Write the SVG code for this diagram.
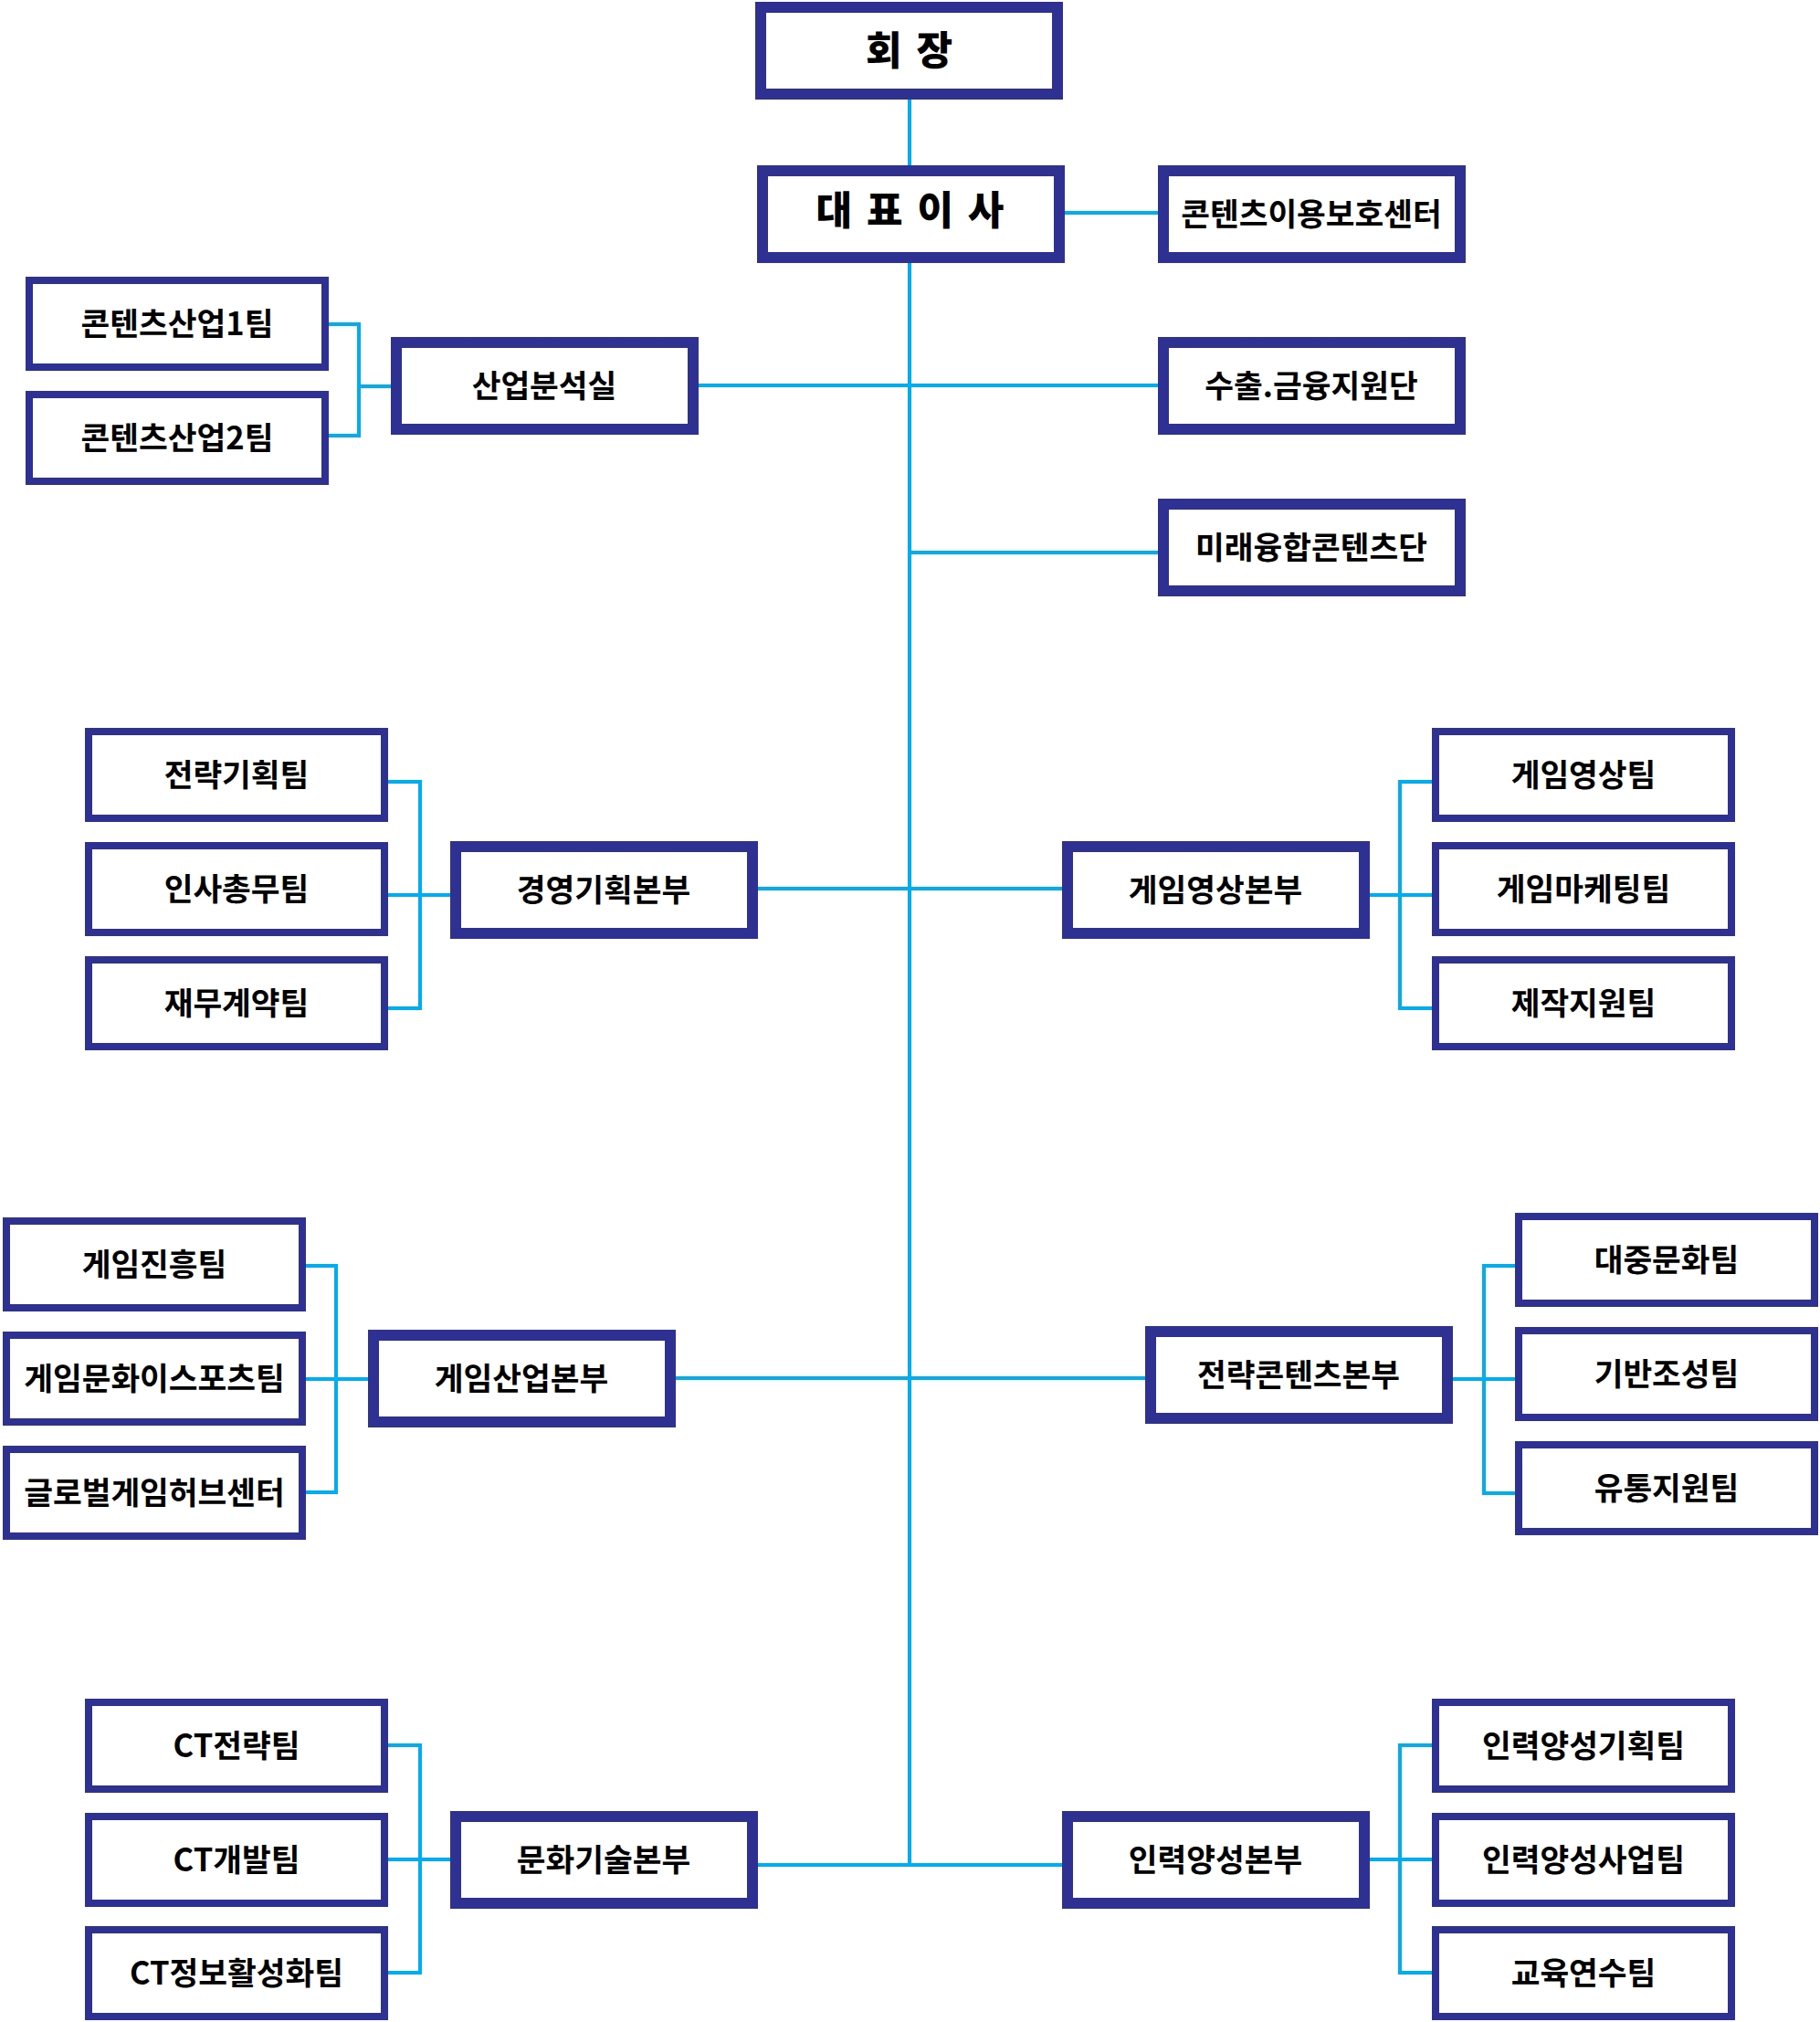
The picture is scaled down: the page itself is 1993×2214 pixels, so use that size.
<svg xmlns="http://www.w3.org/2000/svg" width="1993" height="2214" viewBox="0 0 1993 2214">
<style>
.bg{fill:#ffffff}
.dept rect{fill:#ffffff;stroke:#2E3192;stroke-width:12}
.team rect{fill:#ffffff;stroke:#2E3192;stroke-width:8}
text{font-family:"Noto Sans CJK KR","Noto Sans",sans-serif;font-weight:700;font-size:34.5px;fill:#000000;text-anchor:middle}
text.head{font-weight:900;font-size:43px;letter-spacing:3px}
#connectors path{fill:none;stroke:#00AEEF;stroke-width:4}
</style>
<rect class="bg" x="0" y="0" width="1993" height="2214"/>
<g id="connectors">
<path d="M996 109V2042"/>
<path d="M1166 233H1268"/>
<path d="M764 422H1268"/>
<path d="M996 605H1268"/>
<path d="M829 973H1163"/>
<path d="M739 1509H1254"/>
<path d="M829 2042H1163"/>
<path d="M360 355H393V477H360M393 423H428"/>
<path d="M425 856H460V1104H425M425 980H493"/>
<path d="M1568 856H1533V1104H1568M1500 980H1568"/>
<path d="M334 1386H368V1634H334M334 1510H403"/>
<path d="M1659 1386H1625V1635H1659M1591 1510H1659"/>
<path d="M425 1911H460V2160H425M425 2036H493"/>
<path d="M1568 1911H1533V2160H1568M1500 2036H1568"/>
</g>
<g id="n-chairman" class="dept"><rect x="833" y="8" width="325" height="95"/><text class="head" x="997" y="71">회 장</text></g>
<g id="n-ceo" class="dept"><rect x="835" y="187" width="325" height="95"/><text class="head" x="998" y="246">대 표 이 사</text></g>
<g id="n-content-protect" class="dept"><rect x="1274" y="187" width="325" height="95"/><text x="1436" y="247">콘텐츠이용보호센터</text></g>
<g id="n-industry-analysis" class="dept"><rect x="434" y="375" width="325" height="95"/><text x="596" y="435">산업분석실</text></g>
<g id="n-export" class="dept"><rect x="1274" y="375" width="325" height="95"/><text x="1436" y="435">수출.금융지원단</text></g>
<g id="n-future" class="dept"><rect x="1274" y="552" width="325" height="95"/><text x="1436" y="612">미래융합콘텐츠단</text></g>
<g id="n-mgmt" class="dept"><rect x="499" y="927" width="325" height="95"/><text x="661" y="987">경영기획본부</text></g>
<g id="n-gamevideo" class="dept"><rect x="1169" y="927" width="325" height="95"/><text x="1331" y="987">게임영상본부</text></g>
<g id="n-gameind" class="dept"><rect x="409" y="1462" width="325" height="95"/><text x="571" y="1522">게임산업본부</text></g>
<g id="n-strategy" class="dept"><rect x="1260" y="1458" width="325" height="95"/><text x="1422" y="1518">전략콘텐츠본부</text></g>
<g id="n-culturetech" class="dept"><rect x="499" y="1989" width="325" height="95"/><text x="661" y="2049">문화기술본부</text></g>
<g id="n-hr" class="dept"><rect x="1169" y="1989" width="325" height="95"/><text x="1331" y="2049">인력양성본부</text></g>
<g id="t-ci1" class="team"><rect x="32" y="307" width="324" height="95"/><text x="194" y="367">콘텐츠산업1팀</text></g>
<g id="t-ci2" class="team"><rect x="32" y="432" width="324" height="95"/><text x="194" y="492">콘텐츠산업2팀</text></g>
<g id="t-strplan" class="team"><rect x="97" y="801" width="324" height="95"/><text x="259" y="861">전략기획팀</text></g>
<g id="t-hrga" class="team"><rect x="97" y="926" width="324" height="95"/><text x="259" y="986">인사총무팀</text></g>
<g id="t-finance" class="team"><rect x="97" y="1051" width="324" height="95"/><text x="259" y="1111">재무계약팀</text></g>
<g id="t-gamevideo" class="team"><rect x="1572" y="801" width="324" height="95"/><text x="1734" y="861">게임영상팀</text></g>
<g id="t-gamemkt" class="team"><rect x="1572" y="926" width="324" height="95"/><text x="1734" y="986">게임마케팅팀</text></g>
<g id="t-prod" class="team"><rect x="1572" y="1051" width="324" height="95"/><text x="1734" y="1111">제작지원팀</text></g>
<g id="t-gamepromo" class="team"><rect x="7" y="1337" width="324" height="95"/><text x="169" y="1397">게임진흥팀</text></g>
<g id="t-esports" class="team"><rect x="7" y="1462" width="324" height="95"/><text x="169" y="1522">게임문화이스포츠팀</text></g>
<g id="t-globalhub" class="team"><rect x="7" y="1587" width="324" height="95"/><text x="169" y="1647">글로벌게임허브센터</text></g>
<g id="t-popculture" class="team"><rect x="1663" y="1332" width="324" height="95"/><text x="1825" y="1392">대중문화팀</text></g>
<g id="t-infra" class="team"><rect x="1663" y="1457" width="324" height="95"/><text x="1825" y="1517">기반조성팀</text></g>
<g id="t-dist" class="team"><rect x="1663" y="1582" width="324" height="95"/><text x="1825" y="1642">유통지원팀</text></g>
<g id="t-ctstr" class="team"><rect x="97" y="1864" width="324" height="95"/><text x="259" y="1924">CT전략팀</text></g>
<g id="t-ctdev" class="team"><rect x="97" y="1989" width="324" height="95"/><text x="259" y="2049">CT개발팀</text></g>
<g id="t-ctinfo" class="team"><rect x="97" y="2113" width="324" height="95"/><text x="259" y="2173">CT정보활성화팀</text></g>
<g id="t-hrplan" class="team"><rect x="1572" y="1864" width="324" height="95"/><text x="1734" y="1924">인력양성기획팀</text></g>
<g id="t-hrbiz" class="team"><rect x="1572" y="1989" width="324" height="95"/><text x="1734" y="2049">인력양성사업팀</text></g>
<g id="t-edu" class="team"><rect x="1572" y="2113" width="324" height="95"/><text x="1734" y="2173">교육연수팀</text></g>
</svg>
